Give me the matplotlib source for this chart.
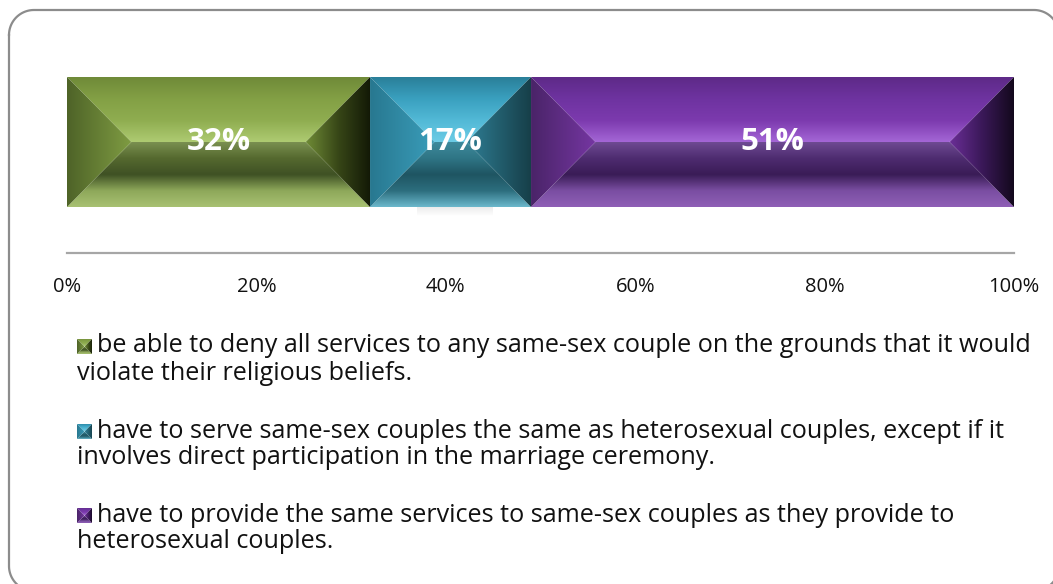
import matplotlib
matplotlib.use("Agg")
import matplotlib.pyplot as plt
import numpy as np
from matplotlib.colors import LinearSegmentedColormap
from matplotlib.patches import Polygon
from matplotlib.lines import Line2D

# Daten
values = [32, 17, 51]
labels = ["32%", "17%", "51%"]
tick_vals = [0, 20, 40, 60, 80, 100]
tick_labels = ["0%", "20%", "40%", "60%", "80%", "100%"]
legend_lines = [
    ("be able to deny all services to any same-sex couple on the grounds that it would",
     "violate their religious beliefs."),
    ("have to serve same-sex couples the same as heterosexual couples, except if it",
     "involves direct participation in the marriage ceremony."),
    ("have to provide the same services to same-sex couples as they provide to",
     "heterosexual couples."),
]

# Farben je Segment: oben, unten, links, rechts (Verlaufsstopps)
palettes = [
    {"top": ["#6f8a38", "#83a045", "#8fad50", "#aecb72"],
     "bottom": ["#7a9050", "#55692f", "#3f5124", "#8ea85a", "#a8c172"],
     "left": ["#4e6328", "#7f9c42"],
     "right": ["#6f8b36", "#374617", "#121806"]},
    {"top": ["#2a7f99", "#3aa0bf", "#52b9d6", "#6ccce6"],
     "bottom": ["#3e8a9c", "#2f7585", "#1f5562", "#2c6e7e", "#6cb8cc"],
     "left": ["#287890", "#3a9dba"],
     "right": ["#2f7f95", "#225d6d", "#163e48"]},
    {"top": ["#5e2a88", "#6e33a0", "#7c3aae", "#a466d6"],
     "bottom": ["#6e4a92", "#4e2c70", "#3a1c56", "#7a4ea2", "#8f5fb6"],
     "left": ["#4a2468", "#7536a2"],
     "right": ["#6a2e96", "#3a1858", "#12081a"]},
]

FONT = "Open Sans"
W, H = 1053, 584
fig = plt.figure(figsize=(W / 100, H / 100), dpi=100)

# abgerundeter Rahmen, Koordinaten in Pixeln (y von oben)
fx0, fy0, fx1, fy1, r = 9, 10, 1059, 591, 25
t = np.linspace(0, np.pi / 2, 30)
px = np.concatenate([fx0 + r - r * np.cos(t), fx1 - r + r * np.sin(t),
                     fx1 - r + r * np.cos(t), fx0 + r - r * np.sin(t), [fx0]])
py = np.concatenate([fy0 + r - r * np.sin(t), fy0 + r - r * np.cos(t),
                     fy1 - r + r * np.sin(t), fy1 - r + r * np.cos(t), [fy0 + r]])
fig.lines.append(Line2D(px / W, 1 - py / H, transform=fig.transFigure,
                        color="#8c8c8c", linewidth=1.6))

ax = fig.add_axes([67 / W, (H - 253) / H, (1014 - 67) / W, (253 - 60) / H])
ax.set_xlim(0, 100)
ax.set_ylim(0, 1)

y0, y1 = (253 - 207) / 193, (253 - 77) / 193


def grad_fill(ax, poly_xy, stops, horizontal, extent):
    cmap = LinearSegmentedColormap.from_list("g", stops)
    g = np.linspace(0, 1, 256)
    img = g[np.newaxis, :] if horizontal else g[:, np.newaxis]
    poly = Polygon(poly_xy, closed=True, facecolor="none", edgecolor="none",
                   transform=ax.transData)
    ax.add_patch(poly)
    im = ax.imshow(img, cmap=cmap, extent=extent, origin="upper" if not horizontal else "lower",
                   aspect="auto", interpolation="bilinear", zorder=2)
    im.set_clip_path(poly)


def bevel(ax, x0, x1, y0, y1, pal, dx):
    ym = (y0 + y1) / 2
    dx = min(dx, (x1 - x0) / 2)
    # oben: Verlauf von oben (y1) nach Mitte
    grad_fill(ax, [(x0, y1), (x1, y1), (x1 - dx, ym), (x0 + dx, ym)],
              pal["top"], False, (x0, x1, ym, y1))
    # unten: von Mitte nach unten
    grad_fill(ax, [(x0, y0), (x1, y0), (x1 - dx, ym), (x0 + dx, ym)],
              pal["bottom"], False, (x0, x1, y0, ym))
    # links
    grad_fill(ax, [(x0, y0), (x0, y1), (x0 + dx, ym)],
              pal["left"], True, (x0, x0 + dx, y0, y1))
    # rechts
    grad_fill(ax, [(x1, y0), (x1, y1), (x1 - dx, ym)],
              pal["right"], True, (x1 - dx, x1, y0, y1))


lefts = np.concatenate([[0], np.cumsum(values)[:-1]])
for left, v, pal, lab in zip(lefts, values, palettes, labels):
    bevel(ax, left, left + v, y0, y1, pal, 6.8)
    ax.text(left + v / 2, (y0 + y1) / 2, lab, ha="center", va="center",
            color="white", fontsize=22.5, fontweight="bold", family=FONT, zorder=5)

# leichter Schatten unter dem mittleren Segment
ax.imshow(np.linspace(1, 0, 64)[:, None], cmap=LinearSegmentedColormap.from_list(
    "s", ["#ffffff", "#ececec"]), extent=(values[0] + 5, values[0] + values[1] - 4, y0 - 0.045, y0),
    aspect="auto", zorder=1)

for s in ["top", "left", "right"]:
    ax.spines[s].set_visible(False)
ax.spines["bottom"].set_color("#a6a6a6")
ax.spines["bottom"].set_linewidth(1.6)
ax.set_yticks([])
ax.set_xticks(tick_vals)
ax.set_xticklabels(tick_labels, family=FONT, fontsize=14.5, color="#111111")
ax.tick_params(axis="x", length=0, pad=17)
ax.set_xlim(0, 100)
ax.set_ylim(0, 1)

# Legende
line_y = [346, 431, 515]
renderer = fig.canvas.get_renderer()
texts = []
for (l1, l2), pal, yy in zip(legend_lines, palettes, line_y):
    m = fig.add_axes([77 / W, (H - yy - 8) / H, 15 / W, 15 / H])
    m.set_xlim(0, 1)
    m.set_ylim(0, 1)
    m.axis("off")
    bevel(m, 0, 1, 0, 1, pal, 0.5)
    t1 = fig.text(97 / W, (H - yy) / H, l1, ha="left", va="center", fontsize=15,
                  family=FONT, color="#111111")
    t2 = fig.text(77 / W, (H - yy - 27) / H, l2, ha="left", va="center", fontsize=15,
                  family=FONT, color="#111111")
    texts += [t1, t2]

# Schriftgröße an die Breite der ersten Zeile anpassen
w = texts[0].get_window_extent(renderer).width
fs = 15 * (1030 - 97) / w
for t_ in texts:
    t_.set_fontsize(fs)

fig.savefig("out.png", dpi=100)
